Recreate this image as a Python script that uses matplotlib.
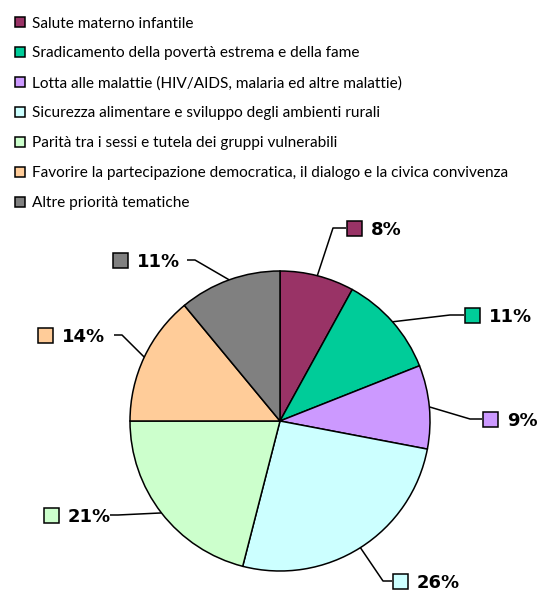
import matplotlib
matplotlib.use("Agg")
import matplotlib.pyplot as plt
from matplotlib.patches import Rectangle
import numpy as np

categories = [
    "Salute materno infantile",
    "Sradicamento della povertà estrema e della fame",
    "Lotta alle malattie (HIV/AIDS, malaria ed altre malattie)",
    "Sicurezza alimentare e sviluppo degli ambienti rurali",
    "Parità tra i sessi e tutela dei gruppi vulnerabili",
    "Favorire la partecipazione democratica, il dialogo e la civica convivenza",
    "Altre priorità tematiche",
]
values = [8, 11, 9, 26, 21, 14, 11]
colors = ["#993366", "#00CC99", "#CC99FF", "#CCFFFF", "#CCFFCC", "#FFCC99", "#808080"]

W, H = 543, 594
fig = plt.figure(figsize=(W / 100, H / 100), dpi=100)
ax = fig.add_axes([0, 0, 1, 1])

cx, cy, R = 280, 421, 150
wedges, _ = ax.pie(values, colors=colors, startangle=90, counterclock=False,
                   center=(cx, H - cy), radius=R,
                   wedgeprops=dict(edgecolor="black", linewidth=1.1))
ax.set_xlim(0, W)
ax.set_ylim(0, H)
ax.set_aspect("equal")
ax.axis("off")

# label layout: box left x, label center y (pixels from top), elbow x, side
layout = [
    (347, 228, 333, "r"),
    (465, 315, 450, "r"),
    (483, 419, 470, "r"),
    (393, 581, 383, "r"),
    (44, 515, 118, "l"),
    (38, 335, 122, "l"),
    (113, 260, 195, "l"),
]
box = 15
for w, v, col, (bx, ly, ex, side) in zip(wedges, values, colors, layout):
    mid = np.deg2rad((w.theta1 + w.theta2) / 2)
    px = cx + R * np.cos(mid)
    py = H - cy + R * np.sin(mid)
    yy = H - ly
    if side == "r":
        xs = [px, ex, bx - 1]
    else:
        xs = [px, ex, ex - 8]
    ys = [py, yy, yy]
    ax.plot(xs, ys, color="black", lw=1.1, solid_capstyle="butt", zorder=3)
    ax.add_patch(Rectangle((bx, yy - box / 2), box, box, facecolor=col,
                           edgecolor="black", lw=1.1, zorder=4))
    ax.text(bx + box + 9, yy, f"{v}%", ha="left", va="center_baseline",
            fontsize=13, fontweight="bold", family="DejaVu Sans", zorder=5)

# legend
for i, (cat, col) in enumerate(zip(categories, colors)):
    yy = H - (22 + 30 * i)
    ax.add_patch(Rectangle((15, yy - 5), 10, 10, facecolor=col,
                           edgecolor="black", lw=1.1))
    ax.text(32, yy, cat, ha="left", va="center_baseline", fontsize=11.1,
            family="Lato", color="black")

fig.savefig("out.png", dpi=100)
